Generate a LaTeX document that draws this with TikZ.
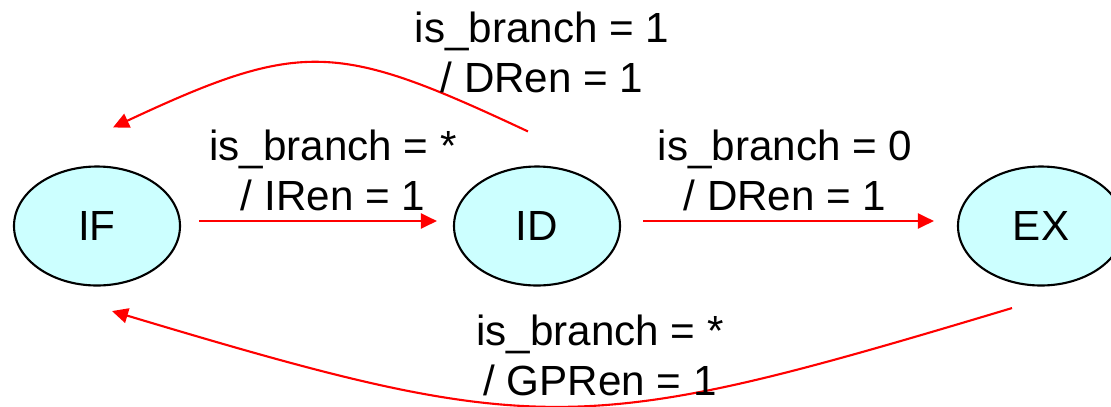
\documentclass[tikz,border=0pt]{standalone}
\usepackage{fontspec}
\setmainfont{Liberation Sans}
\usepackage{tikz}
\usetikzlibrary{arrows.meta, shapes.geometric}
\definecolor{stagefill}{HTML}{CCFFFF}
\tikzset{%
	stage/.style={
		ellipse,
		draw=black,
		line width=0.6pt,
		fill=stagefill,
		minimum width=1.66cm,
		minimum height=1.19cm,
		inner sep=0pt,
		font=\fontsize{12}{14}\selectfont
	},
	trans/.style={
		draw=red,
		line width=0.6pt,
		-{Triangle[length=1.6mm, width=1.5mm]}
	},
	cond/.style={
		align=center,
		font=\fontsize{12}{14.2}\selectfont
	},
}

\begin{document}
\begin{tikzpicture}
			\useasboundingbox (0,0) rectangle (11.11,4.06);

			% Pipeline stages
			\node[stage] (IF) at (0.97,1.80) {IF};
			\node[stage] (ID) at (5.37,1.80) {ID};
			\node[stage] (EX) at (10.41,1.80) {EX};

			% Forward transitions
			\draw[trans] ([xshift=1.8mm,yshift=0.5mm]IF.east) -- ([xshift=-1.6mm,yshift=0.5mm]ID.west);
			\node[cond] (c1) at (3.33,2.36) {is\_branch = *\\/ IRen = 1};
			\draw[trans] ([xshift=2.2mm,yshift=0.5mm]ID.east) -- ([xshift=-2.3mm,yshift=0.5mm]EX.west);
			\node[cond] (c2) at (7.85,2.36) {is\_branch = 0\\/ DRen = 1};

			% Branch taken: back to IF
			\draw[trans] ([xshift=-0.9mm,yshift=3.4mm]ID.north)
				.. controls +(-1.9,0.89) and +(1.9,0.89) .. ([xshift=1.6mm,yshift=3.8mm]IF.north);
			\node[cond] (c3) at (5.42,3.54) {is\_branch = 1\\/ DRen = 1};

			% Execute done: back to IF
			\draw[trans] ([xshift=-2.9mm,yshift=-2.15mm]EX.south)
				.. controls +(-4.3,-1.29) and +(4.3,-1.29) .. ([xshift=1.5mm,yshift=-2.45mm]IF.south);
			\node[cond] (c4) at (6.0,0.51) {is\_branch = *\\/ GPRen = 1};
\end{tikzpicture}
\end{document}
